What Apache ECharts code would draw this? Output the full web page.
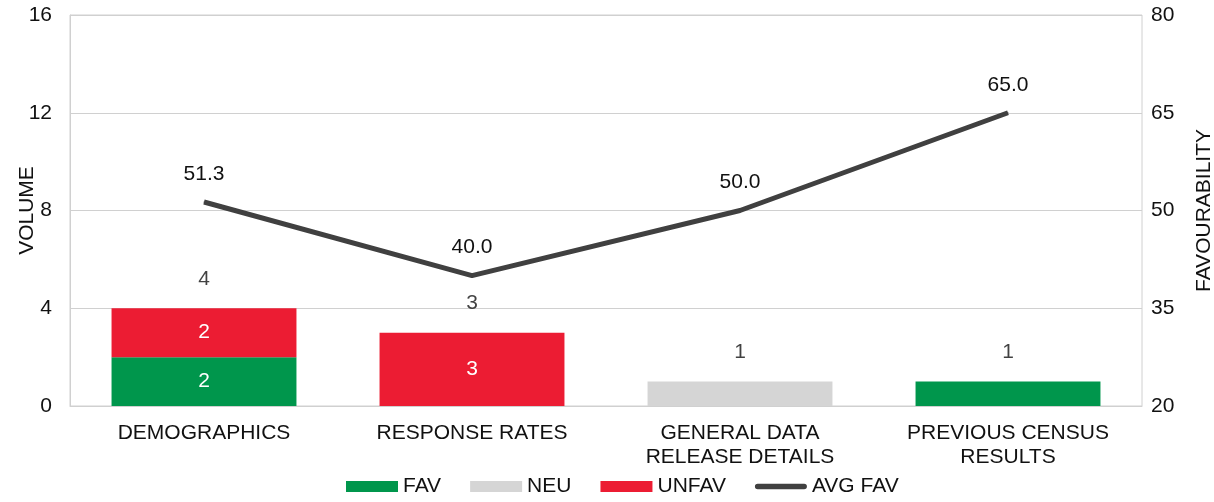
<!DOCTYPE html>
<html>
<head>
<meta charset="utf-8">
<script src="https://cdn.jsdelivr.net/npm/echarts@6/dist/echarts.min.js"></script>
<style>
  html, body { margin: 0; padding: 0; background: #fff; }
  #chart { width: 1214px; height: 502px; }
</style>
</head>
<body>
<div id="chart"></div>
<script>
// Topics and their response counts by sentiment
const categories = ['DEMOGRAPHICS', 'RESPONSE RATES', 'GENERAL DATA\nRELEASE DETAILS', 'PREVIOUS CENSUS\nRESULTS'];
const favCounts = [2, 0, 0, 1];
const neuCounts = [0, 0, 1, 0];
const unfavCounts = [2, 3, 0, 0];
const avgFav = [51.3, 40.0, 50.0, 65.0];
const totals = categories.map((_, i) => favCounts[i] + neuCounts[i] + unfavCounts[i]);

const FONT = "'Liberation Sans', Arial, sans-serif";
const FS = 21;
const TXT = '#111111';
const GRID = '#d0d0d0';

// segment labels only where the bar is tall enough to hold them
const segLabel = p => (p.value >= 2 ? String(p.value) : '');
const barLabel = { show: true, position: 'inside', color: '#fff', fontSize: FS, fontFamily: FONT, formatter: segLabel };

const chart = echarts.init(document.getElementById('chart'), null, { renderer: 'canvas' });
chart.setOption({
  animation: false,
  textStyle: { fontFamily: FONT },
  grid: {
    left: 70, right: 72, top: 15, bottom: 96,
    outerBoundsMode: 'none',
    show: true, borderColor: GRID, borderWidth: 1
  },
  legend: {
    bottom: 0,
    left: 341,
    itemGap: 29,
    itemWidth: 52,
    itemHeight: 11,
    textStyle: { fontSize: FS, color: TXT, fontFamily: FONT },
    data: [
      { name: 'FAV', icon: 'rect' },
      { name: 'NEU', icon: 'rect' },
      { name: 'UNFAV', icon: 'rect' },
      { name: 'AVG FAV', icon: 'path://M3,0 L53,0 A3,3 0 0 1 53,6 L3,6 A3,3 0 0 1 3,0 Z' }
    ]
  },
  xAxis: {
    type: 'category',
    data: categories,
    axisLine: { show: true, lineStyle: { color: GRID } },
    axisTick: { show: false },
    axisLabel: { color: TXT, fontSize: FS, margin: 15, lineHeight: 24, fontFamily: FONT }
  },
  yAxis: [
    {
      type: 'value', min: 0, max: 16, interval: 4,
      name: 'VOLUME', nameLocation: 'middle', nameGap: 32, nameMoveOverlap: false,
      nameTextStyle: { color: TXT, fontSize: FS, fontFamily: FONT },
      axisLine: { show: true, lineStyle: { color: GRID } },
      axisTick: { show: false },
      axisLabel: { color: TXT, fontSize: FS, margin: 18, fontFamily: FONT },
      splitLine: { show: true, lineStyle: { color: GRID, width: 1 } }
    },
    {
      type: 'value', min: 20, max: 80, interval: 15,
      name: 'FAVOURABILITY', nameLocation: 'middle', nameGap: 52, nameRotate: 90, nameMoveOverlap: false,
      nameTextStyle: { color: TXT, fontSize: FS, fontFamily: FONT },
      axisLine: { show: false },
      axisTick: { show: false },
      axisLabel: { color: TXT, fontSize: FS, margin: 9, fontFamily: FONT },
      splitLine: { show: false }
    }
  ],
  series: [
    {
      name: 'FAV', type: 'bar', stack: 'vol', data: favCounts, barCategoryGap: '31%',
      itemStyle: { color: '#00964c' }, label: barLabel
    },
    {
      name: 'NEU', type: 'bar', stack: 'vol', data: neuCounts,
      itemStyle: { color: '#d5d5d5' }, label: barLabel
    },
    {
      name: 'UNFAV', type: 'bar', stack: 'vol', data: unfavCounts,
      itemStyle: { color: '#ec1c33' }, label: barLabel
    },
    {
      name: 'TOTAL', type: 'scatter', data: totals, symbolSize: 0, silent: true,
      label: { show: true, position: 'top', distance: 19, color: TXT, fontSize: FS, fontFamily: FONT }
    },
    {
      name: 'AVG FAV', type: 'line', yAxisIndex: 1, data: avgFav,
      symbol: 'circle', symbolSize: 1, showSymbol: true,
      lineStyle: { color: '#404040', width: 5 },
      itemStyle: { color: '#404040' },
      label: {
        show: true, position: 'top', distance: 17, color: TXT, fontSize: FS, fontFamily: FONT,
        formatter: p => p.value.toFixed(1)
      }
    }
  ]
});
</script>
</body>
</html>
